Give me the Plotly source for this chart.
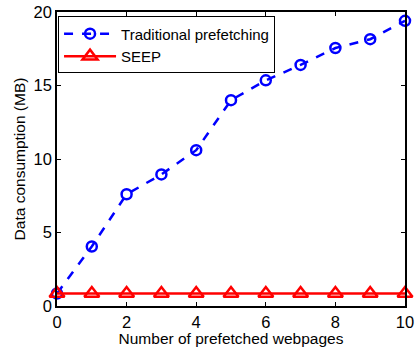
import plotly.graph_objects as go

pages = [0, 1, 2, 3, 4, 5, 6, 7, 8, 9, 10]
traditional = [0.85, 4.05, 7.6, 8.95, 10.6, 14.0, 15.35, 16.4, 17.55, 18.15, 19.4]
seep = [0.85] * 11

FONT = "Liberation Sans, Arial"

fig = go.Figure()
fig.add_trace(go.Scatter(
    x=pages, y=traditional, mode="lines+markers", name="Traditional prefetching",
    line=dict(color="#0000ff", width=2.5, dash="dash"),
    marker=dict(symbol="circle-open", size=10, color="#0000ff", line=dict(width=2.5)),
    cliponaxis=False,
))
fig.add_trace(go.Scatter(
    x=pages, y=seep, mode="lines+markers", name="SEEP",
    line=dict(color="#ff0000", width=2.5),
    marker=dict(symbol="triangle-up-open", size=13, color="#ff0000", line=dict(width=2.5)),
    cliponaxis=False,
))

axis_common = dict(
    showline=True, linecolor="black", linewidth=1.5, mirror="ticks",
    ticks="inside", ticklen=4, tickcolor="black", showgrid=False, zeroline=False,
    tickfont=dict(family=FONT, size=16.5, color="black"), automargin=False,
)
fig.update_xaxes(range=[0, 10], tickvals=[0, 2, 4, 6, 8, 10],
                 title=dict(text="Number of prefetched webpages", standoff=0,
                            font=dict(family=FONT, size=15.5, color="black")),
                 **axis_common)
fig.update_yaxes(range=[0, 20], tickvals=[0, 5, 10, 15, 20],
                 title=dict(text="Data consumption (MB)", standoff=4,
                            font=dict(family=FONT, size=15.5, color="black")),
                 **axis_common)
fig.update_layout(
    width=415, height=347,
    margin=dict(l=57, r=10, t=12, b=41),
    plot_bgcolor="white", paper_bgcolor="white",
    font=dict(family=FONT, size=15, color="black"),
    legend=dict(x=0.003, y=0.985, xanchor="left", yanchor="top",
                bordercolor="black", borderwidth=1, bgcolor="white",
                font=dict(size=15), tracegroupgap=0, itemwidth=52),
    showlegend=True,
)
fig.write_html("out.html", config={"displayModeBar": False},
               post_script="document.body.style.margin='0';document.body.style.overflow='hidden';")
